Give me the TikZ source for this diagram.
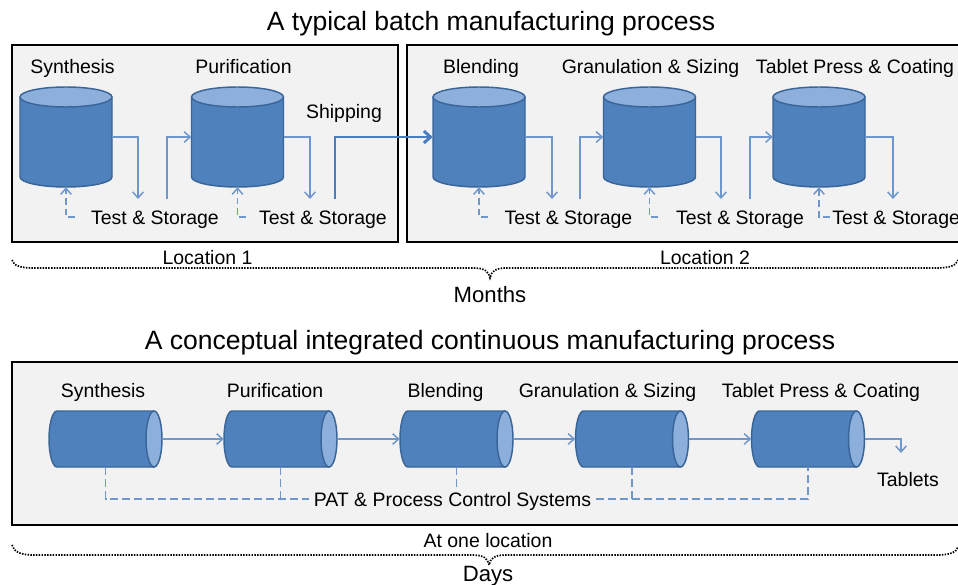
\documentclass[tikz,border=0pt]{standalone}
\usepackage{fontspec}
\setmainfont{Liberation Sans}
\usetikzlibrary{arrows.meta}

\definecolor{cylbody}{HTML}{4F81BD}
\definecolor{cylline}{HTML}{3A6598}
\definecolor{cyltop}{HTML}{8DAFDC}
\definecolor{flow}{HTML}{6F97CC}
\definecolor{ship}{HTML}{4A7CC0}
\definecolor{panel}{HTML}{F2F2F2}

\tikzset{
  lbl/.style={font=\fontsize{14.6pt}{17pt}\selectfont, inner sep=0pt, text height=10.5pt, text depth=0pt},
  ttl/.style={font=\fontsize{19.9pt}{23pt}\selectfont, inner sep=0pt, text height=14.3pt, text depth=0pt},
  span/.style={font=\fontsize{16.6pt}{19pt}\selectfont, inner sep=0pt, text height=11.9pt, text depth=0pt},
  panelbox/.style={draw=black, fill=panel, line width=2.2pt},
  flowline/.style={draw=flow, line width=1.1pt, -{Straight Barb[length=4.5pt,width=8pt]}},
  shipline/.style={draw=ship, line width=2.2pt, -{Straight Barb[length=5pt,width=9pt]}},
  fbline/.style={draw=flow, line width=1.1pt, dash pattern=on 5pt off 3pt, -{Straight Barb[length=4.5pt,width=8pt]}},
  ctlline/.style={draw=flow, line width=1.1pt, dash pattern=on 6pt off 3pt},
  spanline/.style={draw=black, line width=1.3pt, dash pattern=on 1.1pt off 1pt},
  cylfill/.style={fill=cylbody},
  cyledge/.style={draw=cylline, line width=1.1pt},
  % upright tank: body 69pt wide, 75pt high
  vcyl/.pic={
    \fill[cylfill] (-34.5pt,30pt) -- (-34.5pt,-30pt)
      arc[start angle=180, end angle=360, x radius=34.5pt, y radius=7.5pt]
      -- (34.5pt,30pt) -- cycle;
    \draw[cyledge] (-34.5pt,30pt) -- (-34.5pt,-30pt)
      arc[start angle=180, end angle=360, x radius=34.5pt, y radius=7.5pt]
      -- (34.5pt,30pt);
    \draw[cyledge, fill=cyltop] (0pt,30pt) ellipse[x radius=34.5pt, y radius=7.5pt];
    \node[minimum width=69pt, minimum height=75pt, inner sep=0pt] (-body) at (0pt,0pt) {};
  },
  % lying tube: body 84.75pt long, 42pt high
  hcyl/.pic={
    \fill[cylfill] (36.375pt,21pt) -- (-36.375pt,21pt)
      arc[start angle=90, end angle=270, x radius=6pt, y radius=21pt]
      -- (36.375pt,-21pt) -- cycle;
    \draw[cyledge] (36.375pt,21pt) -- (-36.375pt,21pt)
      arc[start angle=90, end angle=270, x radius=6pt, y radius=21pt]
      -- (36.375pt,-21pt);
    \draw[cyledge, fill=cyltop] (36.375pt,0pt) ellipse[x radius=6pt, y radius=21pt];
    \node[minimum width=84.75pt, minimum height=42pt, inner sep=0pt] (-body) at (0pt,0pt) {};
  }
}

\begin{document}
\begin{tikzpicture}[x=0.75pt, y=-0.75pt]
\useasboundingbox (0,0) rectangle (958,585);
\clip (0,0) rectangle (958,585);

% ---------- batch process ----------
\node[ttl] (t1) at (491,21) {A typical batch manufacturing process};

\path[panelbox] (12,45) rectangle (398,242);
\path[panelbox] (407,45) rectangle (970,242);

\pic (syn) at (66,137) {vcyl};
\pic (pur) at (237.5,137) {vcyl};
\pic (ble) at (479,137) {vcyl};
\pic (gra) at (649.5,137) {vcyl};
\pic (tab) at (819,137) {vcyl};

\node[lbl] (l1) at (72.5,67) {Synthesis};
\node[lbl] (l2) at (243.5,67) {Purification};
\node[lbl] (l3) at (344,112) {Shipping};
\node[lbl] (l4) at (481,67) {Blending};
\node[lbl] (l5) at (650.5,67) {Granulation \& Sizing};
\node[lbl] (l6) at (855,67) {Tablet Press \& Coating};

\node[lbl] (ts1) at (155,217) {Test \& Storage};
\node[lbl] (ts2) at (323,217) {Test \& Storage};
\node[lbl] (ts3) at (568.5,217) {Test \& Storage};
\node[lbl] (ts4) at (740,217) {Test \& Storage};
\node[lbl, anchor=west] (ts5) at (832,217) {Test \& Storage};

% outlets down to test & storage, inlets back up to the next tank
\coordinate (o1) at (138,199);
\coordinate (i1) at (167,199);
\coordinate (o2) at (310,199);
\coordinate (sh) at (335,199);
\coordinate (o3) at (552,199);
\coordinate (i3) at (580,199);
\coordinate (o4) at (721,199);
\coordinate (i4) at (750,199);
\coordinate (o5) at (893,199);

\draw[flowline] (syn-body.east) -| (o1);
\draw[flowline] (i1) |- (pur-body.west);
\draw[flowline] (pur-body.east) -| (o2);
\draw[shipline] (sh) |- (ble-body.west);
\draw[flowline] (ble-body.east) -| (o3);
\draw[flowline] (i3) |- (gra-body.west);
\draw[flowline] (gra-body.east) -| (o4);
\draw[flowline] (i4) |- (tab-body.west);
\draw[flowline] (tab-body.east) -| (o5);

% test results fed back to each tank
\coordinate (f1) at (75,217);
\coordinate (f2) at (246,217);
\coordinate (f3) at (488,217);
\coordinate (f4) at (658,217);
\coordinate (f5) at (830,217);
\draw[fbline] (f1) -| (syn-body.south);
\draw[fbline] (f2) -| (pur-body.south);
\draw[fbline] (f3) -| (ble-body.south);
\draw[fbline] (f4) -| (gra-body.south);
\draw[fbline] (f5) -| (tab-body.south);

\node[lbl] (loc1) at (207.5,257) {Location 1};
\node[lbl] (loc2) at (705,257) {Location 2};

\draw[spanline] (12,260) .. controls (14,266) and (20,268) .. (35,268)
  -- (474,268) .. controls (485,268) and (489,272) .. (490,278)
  .. controls (491,272) and (495,268) .. (506,268)
  -- (935,268) .. controls (952,268) and (956,265) .. (958,260);
\node[span] (months) at (490,295) {Months};

% ---------- continuous process ----------
\node[ttl] (t2) at (490,340) {A conceptual integrated continuous manufacturing process};

\path[panelbox] (12,362) rectangle (970,525);

\pic (hsyn) at (105.5,439) {hcyl};
\pic (hpur) at (280.5,439) {hcyl};
\pic (hble) at (456.5,439) {hcyl};
\pic (hgra) at (632,439) {hcyl};
\pic (htab) at (808,439) {hcyl};

\node[lbl] (c1) at (103,390) {Synthesis};
\node[lbl] (c2) at (275,390) {Purification};
\node[lbl] (c3) at (445.5,390) {Blending};
\node[lbl] (c4) at (607.5,390) {Granulation \& Sizing};
\node[lbl] (c5) at (821,390) {Tablet Press \& Coating};

\draw[flowline] (hsyn-body.east) -- (hpur-body.west);
\draw[flowline] (hpur-body.east) -- (hble-body.west);
\draw[flowline] (hble-body.east) -- (hgra-body.west);
\draw[flowline] (hgra-body.east) -- (htab-body.west);
\coordinate (out) at (901,453);
\draw[flowline] (htab-body.east) -| (out);
\node[lbl] (tablets) at (908,479) {Tablets};

\node[lbl, inner xsep=3.5pt] (pat) at (452.5,499) {PAT \& Process Control Systems};
\draw[ctlline] (hsyn-body.south) |- (pat.west);
\draw[ctlline] (hpur-body.south) -- (hpur-body.south |- pat.west);
\draw[ctlline] (hble-body.south) -- ++(0,20);
\draw[ctlline] (pat.east) -| (htab-body.south);
\draw[ctlline] (hgra-body.south) -- (hgra-body.south |- pat.east);

\node[lbl] (one) at (488,540) {At one location};
\draw[spanline] (12,545) .. controls (14,552) and (20,555) .. (35,555)
  -- (473,555) .. controls (484,555) and (488,559) .. (489,565)
  .. controls (490,559) and (494,555) .. (505,555)
  -- (935,555) .. controls (952,555) and (956,552) .. (958,547);
\node[span] (days) at (488,574) {Days};
\end{tikzpicture}
\end{document}
